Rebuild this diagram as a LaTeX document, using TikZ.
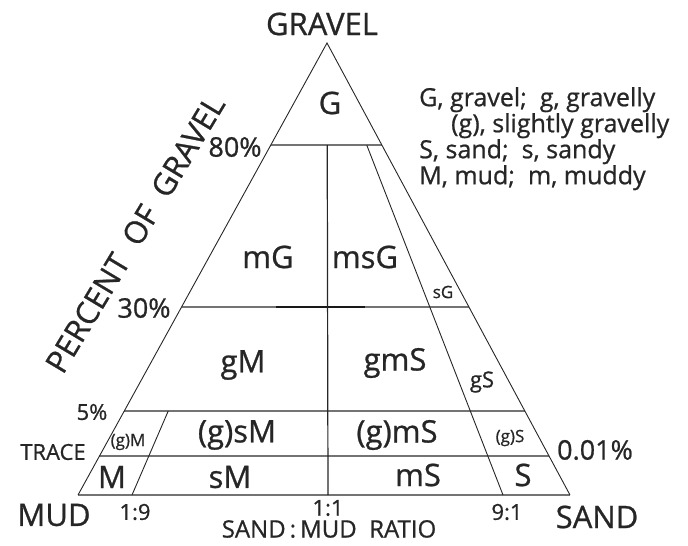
\documentclass[tikz,border=0pt]{standalone}
\usepackage{fontspec}
\setmainfont{Open Sans}[FakeBold=0.8]
\usetikzlibrary{calc}

\begin{document}
\begin{tikzpicture}[x=1pt, y=-1pt,
  every node/.style={inner sep=0pt, text=black!85},
  big/.style={font=\fontsize{31}{33}\selectfont},
  mid/.style={font=\fontsize{27}{29}\selectfont},
  small/.style={font=\fontsize{22}{24}\selectfont},
  tiny/.style={font=\fontsize{17}{19}\selectfont},
  edge/.style={draw=black!85, line width=0.9pt},
  level/.style={draw=black!55, line width=2pt},
]
  \useasboundingbox (0,0) rectangle (688,546);

  \coordinate (top) at (327,43);
  \coordinate (mud) at (78,495);
  \coordinate (sand) at (570,495);
  \coordinate (b19) at (132,495);
  \coordinate (b11) at (328,495);
  \coordinate (b91) at (503,495);

  \foreach \lv/\t in {80/0.774, 30/0.416, 5/0.186, tr/0.086} {
    \coordinate (l\lv) at ($(mud)!\t!(top)$);
    \coordinate (r\lv) at ($(sand)!\t!(top)$);
  }
  \coordinate (t19) at ($(b19)!0.186!(top)$);
  \coordinate (t11) at ($(b11)!0.774!(top)$);
  \coordinate (t91) at ($(b91)!0.774!(top)$);

  \draw[level] (l80) -- (r80);
  \draw[level] (l30) -- (r30);
  \draw[black!90, line width=2pt] ($(l30)!0.33!(r30)$) -- ($(l30)!0.64!(r30)$);
  \draw[level] (l5) -- (r5);
  \draw[level] (ltr) -- (rtr);
  \draw[level] (mud) -- (sand);
  \draw[edge] (mud) -- (top) -- (sand);
  \draw[edge] (b19) -- (t19);
  \draw[edge, line width=1.2pt] (b11) -- (t11);
  \draw[edge] (b91) -- (t91);

  \node[big] (gravel) at (322,24) {GRAVEL};
  \node[big] (mudlbl) at (54,515) {MUD};
  \node[big] (sandlbl) at (597,517) {SAND};
  \node[big, rotate=59] (axis) at (135,234) {PERCENT\ \ OF\ \ GRAVEL};

  \node[mid] (p80) at (235,147) {80\%};
  \node[mid] (p30) at (144,308) {30\%};
  \node[small] (p5) at (92,412) {5\%};
  \node[small] (trace) at (53,452) {TRACE};
  \node[mid] (p001) at (595,450) {0.01\%};

  \node[small] (r19lbl) at (135,512) {1:9};
  \node[small] (r11lbl) at (328,508) {1:1};
  \node[small] (r91lbl) at (507,512) {9:1};
  \node[font=\fontsize{24}{26}\selectfont] (ratio) at (329,529) {SAND\,:\,MUD\ \ RATIO};

  \node[font=\fontsize{25}{24.5}\selectfont, anchor=north west, align=left] (legend) at (419,87)
    {G, gravel;\ \ g, gravelly\\
     \hspace{32pt}(g), slightly gravelly\\
     S, sand;\ \ s, sandy\\
     M, mud;\ \ m, muddy};

  \node[big] (G) at (330,103) {G};
  \node[big] (mG) at (268,257) {mG};
  \node[big] (msG) at (365,257) {msG};
  \node[tiny] (sG) at (443,292) {sG};
  \node[big] (gM) at (243,365) {gM};
  \node[big] (gmS) at (395,363) {gmS};
  \node[small] (gS) at (482,382) {gS};
  \node[tiny] (gMt) at (128,442) {(g)M};
  \node[big] (gsM) at (237,435) {(g)sM};
  \node[big] (gmSt) at (397,435) {(g)mS};
  \node[tiny] (gSt) at (510,438) {(g)S};
  \node[big] (M) at (112,477) {M};
  \node[big] (sM) at (230,477) {sM};
  \node[big] (mS) at (418,475) {mS};
  \node[big] (S) at (523,475) {S};
\end{tikzpicture}
\end{document}
